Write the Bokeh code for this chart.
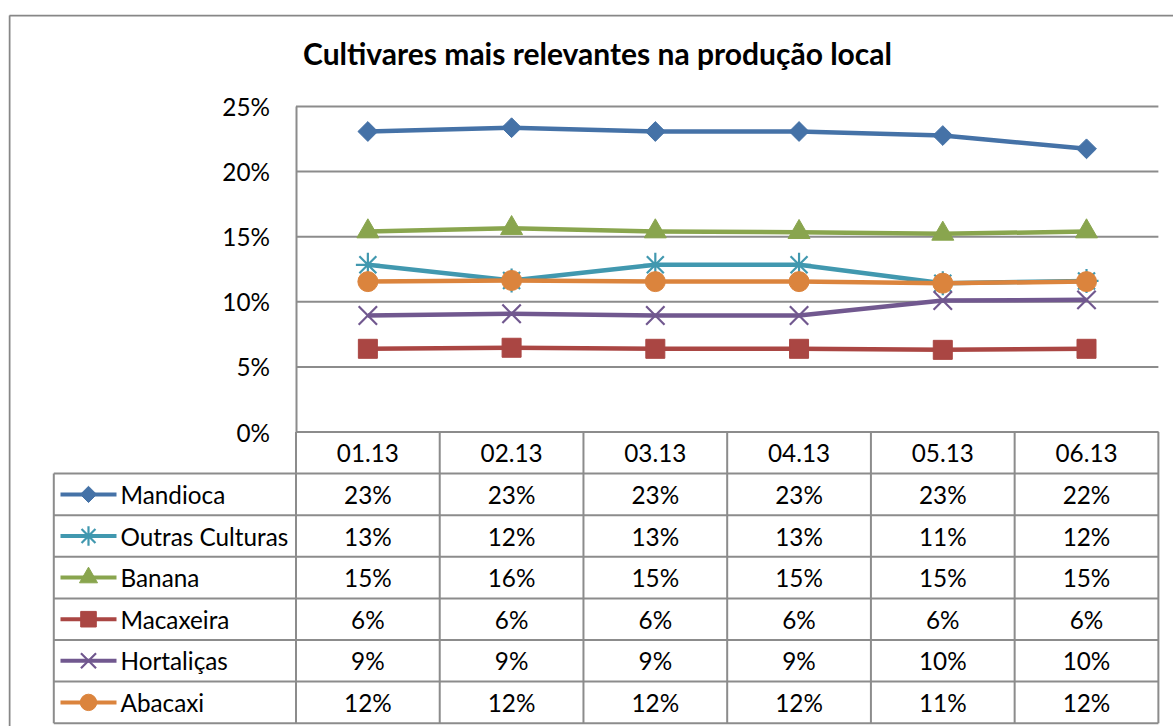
import math
from bokeh.plotting import figure
from bokeh.models import Range1d, LinearAxis, FixedTicker, NumeralTickFormatter, Label
from bokeh.core.properties import value
from bokeh.embed import file_html
from bokeh.resources import INLINE

# ---------------- data ----------------
title = "Cultivares mais relevantes na produção local"
months = ["01.13", "02.13", "03.13", "04.13", "05.13", "06.13"]
series_names = ["Mandioca", "Outras Culturas", "Banana", "Macaxeira", "Hortaliças", "Abacaxi"]
mandioca = [0.2308, 0.2337, 0.2308, 0.2308, 0.2277, 0.2175]
outras_culturas = [0.1284, 0.1164, 0.1284, 0.1284, 0.1143, 0.1160]
banana = [0.1540, 0.1565, 0.1540, 0.1535, 0.1522, 0.1540]
macaxeira = [0.0639, 0.0647, 0.0639, 0.0639, 0.0631, 0.0639]
hortalicas = [0.0895, 0.0908, 0.0895, 0.0895, 0.1010, 0.1015]
abacaxi = [0.1155, 0.1164, 0.1155, 0.1155, 0.1143, 0.1155]
y_ticks = [0.0, 0.05, 0.10, 0.15, 0.20, 0.25]

series_values = [mandioca, outras_culturas, banana, macaxeira, hortalicas, abacaxi]

# ---------------- styles ----------------
colors = ["#4572A7", "#4198AF", "#89A54E", "#AA4643", "#71588F", "#DB843D"]
markers = ["square", "asterisk", "triangle", "square", "x", "circle"]
angles = [math.pi / 4, 0, 0, 0, 0, 0]
msizes = [14, 24, 22, 19, 26, 20]
mlw = [1, 2.2, 1, 1, 2.2, 1]
FONT = "Lato"
FSIZE = "24.3px"
GRID = "#8c8c8c"
GW = 2

# ---------------- layout (page px; canvas == page) ----------------
W, H = 1173, 726
FL, FT = 8, 14        # frame left / top (chart border)
X0 = 295.5            # x of plot-area left edge
Y0 = 431.5            # y of the 0% line
PX_COL = 143.73       # px per category column
PX_Y = 1302.0         # px per unit of value
PX_ROW = 41.6         # px per table row
LEG = 242.2 / PX_COL  # legend column width in column units

ncol = len(months)
x_range = Range1d((FL - X0) / PX_COL, (W - X0) / PX_COL)
y_range = Range1d(-(H - Y0) / PX_Y, (Y0 - FT) / PX_Y)

p = figure(width=W, height=H, x_range=x_range, y_range=y_range,
           x_axis_type=None, y_axis_type=None, title=None,
           toolbar_location=None, output_backend="svg",
           min_border_left=FL, min_border_right=0, min_border_bottom=0,
           min_border_top=FT, outline_line_color=None,
           background_fill_color="white", border_fill_color="white")
p.extra_y_ranges = {"table": Range1d((H - Y0) / PX_ROW, -(Y0 - FT) / PX_ROW)}

# chart border (left and top edges visible in the window)
bx = x_range.start + 1.0 / PX_COL
by = y_range.end - 1.0 / PX_Y
p.segment(x0=[bx, bx], x1=[bx, x_range.end], y0=[y_range.start, by], y1=[by, by],
          line_color="#878787", line_width=2)

# gridlines
p.segment(x0=[0] * len(y_ticks), x1=[ncol] * len(y_ticks), y0=y_ticks, y1=y_ticks,
          line_color=GRID, line_width=GW)

# y axis
yaxis = LinearAxis(ticker=FixedTicker(ticks=y_ticks), formatter=NumeralTickFormatter(format="0%"),
                   fixed_location=0, bounds=(0, max(y_ticks)),
                   axis_line_color=GRID, axis_line_width=GW,
                   major_tick_out=0, major_tick_in=0, minor_tick_out=0, minor_tick_in=0,
                   major_label_standoff=26, major_label_text_font=FONT,
                   major_label_text_font_size=FSIZE, major_label_text_color="black")
p.add_layout(yaxis, "left")

# title
p.add_layout(Label(x=(597 - X0) / PX_COL, y=(Y0 - 52) / PX_Y, text=title,
                   text_font=FONT, text_font_style="bold", text_font_size="30px",
                   text_align="center", text_baseline="middle", text_color="black"))

# series
xs = [j + 0.5 for j in range(ncol)]
for vals, c, m, a, s, lw in zip(series_values, colors, markers, angles, msizes, mlw):
    p.line(xs, vals, line_color=c, line_width=4.5, line_join="round")
    p.scatter(xs, vals, marker=m, angle=a, size=s, fill_color=c, line_color=c, line_width=lw)

# ---------------- data table ----------------
nrows = len(series_names) + 1
p.segment(x0=[0], x1=[ncol], y0=[0], y1=[0], line_color=GRID, line_width=GW, y_range_name="table")
p.segment(x0=[-LEG] * nrows, x1=[ncol] * nrows, y0=list(range(1, nrows + 1)),
          y1=list(range(1, nrows + 1)), line_color=GRID, line_width=GW, y_range_name="table")
p.segment(x0=[-LEG], x1=[-LEG], y0=[1], y1=[nrows], line_color=GRID, line_width=GW,
          y_range_name="table")
p.segment(x0=list(range(0, ncol + 1)), x1=list(range(0, ncol + 1)), y0=[0] * (ncol + 1),
          y1=[nrows] * (ncol + 1), line_color=GRID, line_width=GW, y_range_name="table")

p.text(x=xs, y=[0.5] * ncol, text=months, text_font=value(FONT), text_font_size=FSIZE,
       text_align="center", text_baseline="middle", text_color="black", y_range_name="table")

for i, (name, vals, c, m, a, s, lw) in enumerate(zip(series_names, series_values, colors,
                                                     markers, angles, msizes, mlw)):
    t = i + 1.5
    lx0 = -LEG + 6.7 / PX_COL
    lx1 = -LEG + 62.7 / PX_COL
    p.segment(x0=[lx0], x1=[lx1], y0=[t], y1=[t], line_color=c, line_width=4,
              y_range_name="table")
    p.scatter([(lx0 + lx1) / 2], [t], marker=m, angle=a, size=s * 0.82, fill_color=c,
              line_color=c, line_width=lw, y_range_name="table")
    p.text(x=[-LEG + 66.7 / PX_COL], y=[t], text=[name], text_font=value(FONT),
           text_font_size=FSIZE, text_align="left", text_baseline="middle",
           text_color="black", y_range_name="table")
    labels = [f"{round(v * 100)}%" for v in vals]
    p.text(x=xs, y=[t] * ncol, text=labels, text_font=value(FONT), text_font_size=FSIZE,
           text_align="center", text_baseline="middle", text_color="black",
           y_range_name="table")

open("out.html", "w").write(file_html(p, INLINE))
